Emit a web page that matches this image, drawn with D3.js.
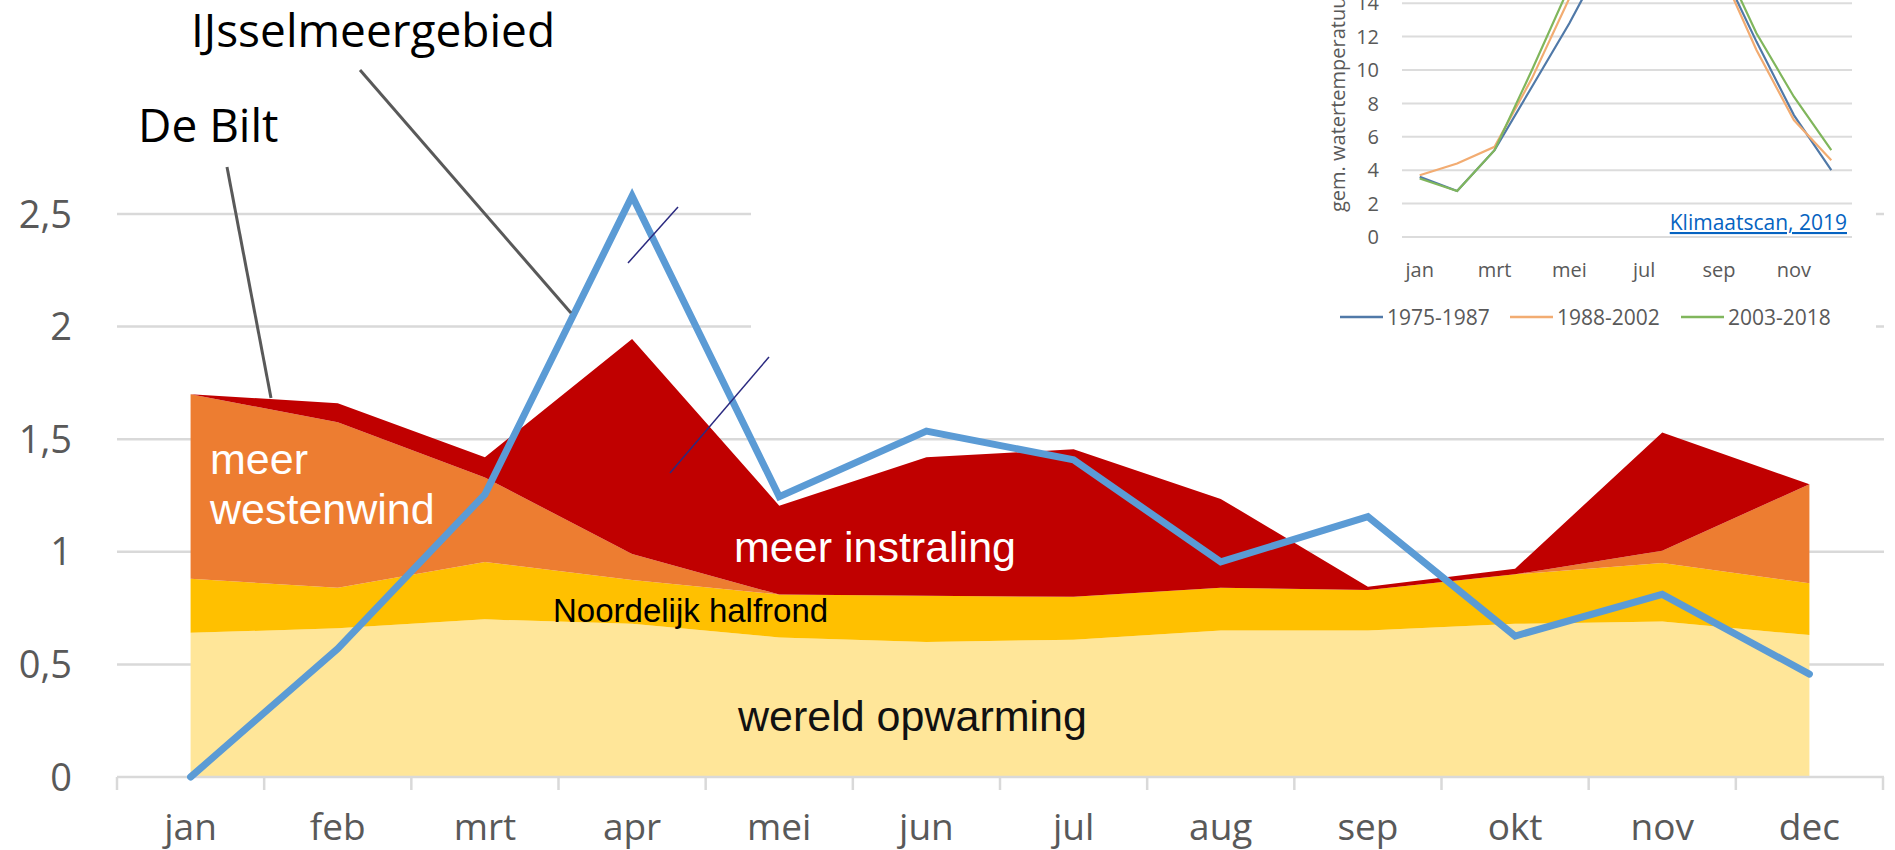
<!DOCTYPE html>
<html>
<head>
<meta charset="utf-8">
<script src="https://cdn.jsdelivr.net/npm/d3@7"></script>
<style>
  html, body { margin: 0; padding: 0; background: #fff; overflow: hidden; }
  svg { display: block; }
</style>
</head>
<body>
<div id="chart"></div>
<script>
// maanden en waarden
const months = ["jan", "feb", "mrt", "apr", "mei", "jun", "jul", "aug", "sep", "okt", "nov", "dec"];

// gestapelde bijdragen (De Bilt)
const wereldOpwarming    = [0.64, 0.66, 0.70, 0.68, 0.62, 0.60, 0.61, 0.65, 0.65, 0.68, 0.69, 0.63];
const noordelijkHalfrond = [0.24, 0.18, 0.255, 0.195, 0.19, 0.205, 0.19, 0.19, 0.18, 0.22, 0.26, 0.23];
const meerWestenwind     = [0.82, 0.735, 0.375, 0.115, 0, 0, 0, 0, 0, 0, 0.055, 0.44];
const meerInstraling     = [0, 0.085, 0.09, 0.955, 0.395, 0.615, 0.655, 0.395, 0.015, 0.025, 0.525, 0];

// lijn IJsselmeergebied
const ijsselmeer = [0, 0.57, 1.255, 2.58, 1.245, 1.536, 1.408, 0.955, 1.156, 0.626, 0.811, 0.457];

const yTicks = [0, 0.5, 1, 1.5, 2, 2.5];

// inzet: gem. watertemperatuur (Klimaatscan, 2019)
const insetTicks = [0, 2, 4, 6, 8, 10, 12, 14];
const insetMonthLabels = ["jan", "mrt", "mei", "jul", "sep", "nov"];
const periods = ["1975-1987", "1988-2002", "2003-2018"];
const temp1975 = [3.6, 2.75, 5.2, 9.0, 12.8, 17.0, 19.0, 18.8, 16.4, 11.7, 7.3, 4.0];
const temp1988 = [3.7, 4.4, 5.4, 9.5, 14.3, 17.8, 19.6, 19.4, 16.2, 11.2, 7.0, 4.6];
const temp2003 = [3.5, 2.75, 5.2, 10.0, 15.0, 18.2, 20.0, 19.8, 17.0, 12.2, 8.4, 5.2];

const width = 1895, height = 850;
const grey = "#595959", gridColor = "#d9d9d9";

const svg = d3.select("#chart").append("svg")
  .attr("width", width)
  .attr("height", height);

const x = d3.scaleBand().domain(months).range([117, 1883]).padding(0);
const cx = m => x(m) + x.bandwidth() / 2;
const y = d3.scaleLinear().domain([0, 2.5]).range([777, 214]);

// gridlines
svg.append("g")
  .selectAll("line")
  .data(yTicks.filter(d => d > 0))
  .join("line")
  .attr("x1", 117).attr("x2", 1884)
  .attr("y1", d => y(d)).attr("y2", d => y(d))
  .attr("stroke", gridColor)
  .attr("stroke-width", 2.5);

// white box of the inset picture
svg.append("rect")
  .attr("x", 751).attr("y", 0)
  .attr("width", 1876 - 751).attr("height", 345)
  .attr("fill", "#fff");

// stacked areas
const table = months.map((m, i) => ({
  month: m,
  wereld: wereldOpwarming[i],
  noordelijk: noordelijkHalfrond[i],
  westenwind: meerWestenwind[i],
  instraling: meerInstraling[i]
}));
const keys = ["wereld", "noordelijk", "westenwind", "instraling"];
const colors = {wereld: "#ffe699", noordelijk: "#ffc000", westenwind: "#ed7d31", instraling: "#c00000"};
const series = d3.stack().keys(keys)(table);

const area = d3.area()
  .x(d => cx(d.data.month))
  .y0(d => y(d[0]))
  .y1(d => y(d[1]));

svg.append("g")
  .selectAll("path")
  .data(series)
  .join("path")
  .attr("d", area)
  .attr("fill", d => colors[d.key]);

// x axis
const xAxis = svg.append("g").attr("transform", "translate(0," + y(0) + ")");
xAxis.append("line")
  .attr("x1", 117).attr("x2", 1884)
  .attr("stroke", gridColor).attr("stroke-width", 2.5);
xAxis.selectAll(".tick")
  .data(d3.range(months.length + 1))
  .join("line")
  .attr("x1", i => 117 + i * x.bandwidth())
  .attr("x2", i => 117 + i * x.bandwidth())
  .attr("y1", 0).attr("y2", 13)
  .attr("stroke", gridColor).attr("stroke-width", 2.5);
xAxis.selectAll("text")
  .data(months)
  .join("text")
  .attr("x", d => cx(d))
  .attr("y", 63)
  .attr("text-anchor", "middle")
  .attr("font-family", "Open Sans")
  .attr("font-size", 37)
  .attr("fill", grey)
  .text(d => d);

// y tick labels
svg.append("g")
  .selectAll("text")
  .data(yTicks)
  .join("text")
  .attr("x", 72)
  .attr("y", d => y(d))
  .attr("dy", "0.36em")
  .attr("text-anchor", "end")
  .attr("font-family", "Open Sans")
  .attr("font-size", 38)
  .attr("fill", grey)
  .text(d => String(d).replace(".", ","));

// IJsselmeer line
const line = d3.line()
  .x((d, i) => cx(months[i]))
  .y(d => y(d));

svg.append("path")
  .datum(ijsselmeer)
  .attr("d", line)
  .attr("fill", "none")
  .attr("stroke", "#5b9bd5")
  .attr("stroke-width", 7)
  .attr("stroke-linecap", "round");

// labels in the areas
const labels = svg.append("g").attr("font-family", "Liberation Sans, Arial");
labels.append("text").attr("x", 210).attr("y", 474).attr("font-size", 43).attr("fill", "#fff").text("meer");
labels.append("text").attr("x", 210).attr("y", 524).attr("font-size", 43).attr("fill", "#fff").text("westenwind");
labels.append("text").attr("x", 734).attr("y", 562).attr("font-size", 43).attr("fill", "#fff").text("meer instraling");
labels.append("text").attr("x", 553).attr("y", 622).attr("font-size", 33).attr("fill", "#000").text("Noordelijk halfrond");
labels.append("text").attr("x", 738).attr("y", 731).attr("font-size", 43).attr("fill", "#111").text("wereld opwarming");

// annotation names with leader lines
const notes = svg.append("g").attr("font-family", "Open Sans").attr("font-size", 46).attr("fill", "#000");
notes.append("text").attr("x", 138).attr("y", 142).text("De Bilt");
notes.append("text").attr("x", 191).attr("y", 47).text("IJsselmeergebied");

const leaders = [[227, 167, 271, 398], [360, 70, 571, 313]];
svg.append("g")
  .selectAll("line")
  .data(leaders)
  .join("line")
  .attr("x1", d => d[0]).attr("y1", d => d[1])
  .attr("x2", d => d[2]).attr("y2", d => d[3])
  .attr("stroke", grey).attr("stroke-width", 3);

// thin strokes
const marks = [[628, 263, 678, 207], [670, 473, 769, 357]];
svg.append("g")
  .selectAll("line")
  .data(marks)
  .join("line")
  .attr("x1", d => d[0]).attr("y1", d => d[1])
  .attr("x2", d => d[2]).attr("y2", d => d[3])
  .attr("stroke", "#2b2a80").attr("stroke-width", 1.5);

// ---- inset chart ----
const inset = svg.append("g");
const ix = d3.scaleBand().domain(months).range([1401, 1850]);
const icx = m => ix(m) + ix.bandwidth() / 2;
const iy = d3.scaleLinear().domain([0, 14]).range([237, 3.2]);

inset.append("g")
  .selectAll("line")
  .data(insetTicks)
  .join("line")
  .attr("x1", 1402).attr("x2", 1852)
  .attr("y1", d => iy(d)).attr("y2", d => iy(d))
  .attr("stroke", "#dcdcdc").attr("stroke-width", 2);

inset.append("g")
  .selectAll("text")
  .data(insetTicks)
  .join("text")
  .attr("x", 1379)
  .attr("y", d => iy(d))
  .attr("dy", "0.36em")
  .attr("text-anchor", "end")
  .attr("font-family", "Open Sans")
  .attr("font-size", 20)
  .attr("fill", grey)
  .text(d => d);

inset.append("text")
  .attr("transform", "translate(1345,212) rotate(-90)")
  .attr("font-family", "Open Sans")
  .attr("font-size", 20)
  .attr("fill", grey)
  .text("gem. watertemperatuur (°C)");

inset.append("g")
  .selectAll("text")
  .data(insetMonthLabels)
  .join("text")
  .attr("x", d => icx(d))
  .attr("y", 277)
  .attr("text-anchor", "middle")
  .attr("font-family", "Open Sans")
  .attr("font-size", 20)
  .attr("fill", grey)
  .text(d => d);

const periodColors = ["#5079a8", "#f2ac72", "#80b65c"];
const iline = d3.line()
  .x((d, i) => icx(months[i]))
  .y(d => iy(d));

inset.append("g")
  .selectAll("path")
  .data([temp1975, temp1988, temp2003])
  .join("path")
  .attr("d", iline)
  .attr("fill", "none")
  .attr("stroke", (d, i) => periodColors[i])
  .attr("stroke-width", 2.2);

inset.append("text")
  .attr("x", 1847).attr("y", 230)
  .attr("text-anchor", "end")
  .attr("font-family", "Open Sans")
  .attr("font-size", 21)
  .attr("fill", "#0563c1")
  .attr("text-decoration", "underline")
  .text("Klimaatscan, 2019");

const legendX = [1340, 1510, 1681];
const legend = inset.append("g")
  .selectAll("g")
  .data(periods)
  .join("g")
  .attr("transform", (d, i) => "translate(" + legendX[i] + ",317)");
legend.append("line")
  .attr("x1", 0).attr("x2", 43)
  .attr("stroke", (d, i) => periodColors[i])
  .attr("stroke-width", 2.5);
legend.append("text")
  .attr("x", 47)
  .attr("dy", "0.36em")
  .attr("font-family", "Open Sans")
  .attr("font-size", 21)
  .attr("fill", grey)
  .text(d => d);
</script>
</body>
</html>
